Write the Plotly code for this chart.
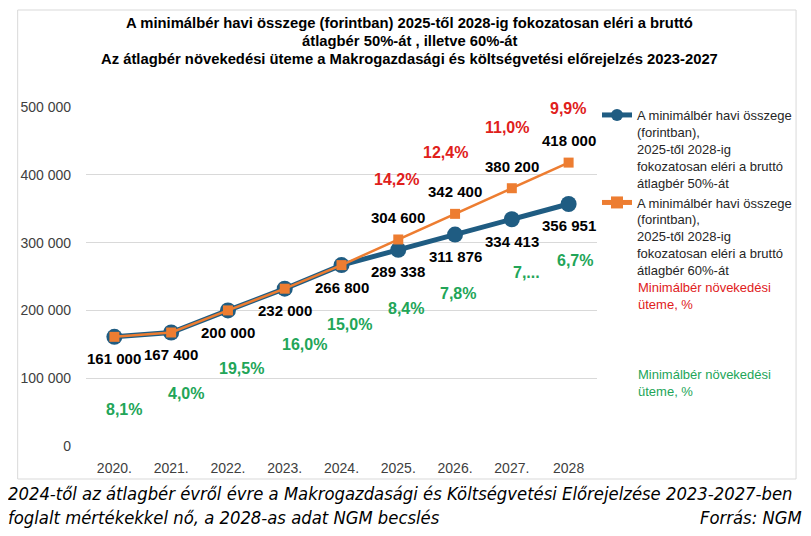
import plotly.graph_objects as go

years = ["2020.", "2021.", "2022.", "2023.", "2024.", "2025.", "2026.", "2027.", "2028"]
min_wage_50 = [161000, 167400, 200000, 232000, 266800, 289338, 311876, 334413, 356951]
min_wage_60 = [161000, 167400, 200000, 232000, 266800, 304600, 342400, 380200, 418000]
growth_60 = ["14,2%", "12,4%", "11,0%", "9,9%"]          # 2025-2028, 60% scenario
growth_50 = ["8,1%", "4,0%", "19,5%", "16,0%", "15,0%", "8,4%", "7,8%", "7,...", "6,7%"]
y_ticks = [0, 100000, 200000, 300000, 400000, 500000]

name_50 = "A minimálbér havi összege<br>(forintban),<br>2025-től 2028-ig<br>fokozatosan eléri a bruttó<br>átlagbér 50%-át"
name_60 = "A minimálbér havi összege<br>(forintban),<br>2025-től 2028-ig<br>fokozatosan eléri a bruttó<br>átlagbér 60%-át"
title_lines = ["A minimálbér havi összege (forintban) 2025-től 2028-ig fokozatosan eléri a bruttó",
               "átlagbér 50%-át , illetve 60%-át",
               "Az átlagbér növekedési üteme a Makrogazdasági és költségvetési előrejelzés 2023-2027"]
footer1 = "2024-től az átlagbér évről évre a Makrogazdasági és Költségvetési Előrejelzése 2023-2027-ben"
footer2 = "foglalt mértékekkel nő, a 2028-as adat NGM becslés"
source = "Forrás: NGM"
legend_growth = "Minimálbér növekedési<br>üteme, %"

BLUE = "#1F5C82"
ORANGE = "#ED7D31"
RED = "#E0201B"
GREEN = "#22A558"
SANS = "Liberation Sans, Arial, sans-serif"
COND = "DejaVu Sans Condensed, Liberation Sans, Arial, sans-serif"

# page has an 8px body margin: work in reference pixels and shift by 8
OFF = 8
W, H = 811 - OFF, 536 - OFF
PL, PR, PT, PB = 81 - OFF, 597 - OFF, 107 - OFF, 446 - OFF   # plot-area edges in figure px
L, R, T, B = PL, W - PR, PT, H - PB
pw, ph = PR - PL, PB - PT


def px(x):   # reference x pixel -> paper
    return (x - OFF - PL) / pw


def py(y):   # reference y pixel -> paper
    return (PB - (y - OFF)) / ph


fig = go.Figure()
fig.add_trace(go.Scatter(x=years, y=min_wage_50, name=name_50, mode="lines+markers",
                         line=dict(color=BLUE, width=5),
                         marker=dict(symbol="circle", size=16, color=BLUE)))
fig.add_trace(go.Scatter(x=years, y=min_wage_60, name=name_60, mode="lines+markers",
                         line=dict(color=ORANGE, width=2.5),
                         marker=dict(symbol="square", size=10, color=ORANGE)))


def fmt(v):
    return f"{v:,}".replace(",", " ")


ann = []
# value labels of the 50% series (below the points)
for i, v in enumerate(min_wage_50):
    ann.append(dict(x=i, y=v, xref="x", yref="y", text="<b>" + fmt(v) + "</b>", showarrow=False,
                    yshift=-22, font=dict(family=SANS, size=15, color="#000000")))
# value labels of the 60% series for forecast years (above the points)
n0 = len(years) - len(growth_60)
for i in range(n0, len(years)):
    ann.append(dict(x=i, y=min_wage_60[i], xref="x", yref="y", text="<b>" + fmt(min_wage_60[i]) + "</b>",
                    showarrow=False, yshift=22, font=dict(family=SANS, size=15, color="#000000")))
# red growth labels above the 60% series
red_dx = [-2, -10, -5, -1]
red_dy = [60, 61, 61, 54]
for k, t in enumerate(growth_60):
    i = n0 + k
    ann.append(dict(x=i, y=min_wage_60[i], xref="x", yref="y", text="<b>" + t + "</b>", showarrow=False,
                    xshift=red_dx[k], yshift=red_dy[k], font=dict(family=SANS, size=16, color=RED)))
# green growth labels below the 50% series
grn_dx = [10, 15, 14, 20, 8, 8, 3, 15, 6]
grn_dy = [-73, -61, -58, -56, -59, -59, -59, -53, -57]
for i, t in enumerate(growth_50):
    ann.append(dict(x=i, y=min_wage_50[i], xref="x", yref="y", text="<b>" + t + "</b>", showarrow=False,
                    xshift=grn_dx[i], yshift=grn_dy[i], font=dict(family=SANS, size=16, color=GREEN)))

# title lines
for t, yc in zip(title_lines, [23, 41, 59]):
    ann.append(dict(x=px(408), y=py(yc), xref="paper", yref="paper", xanchor="center", yanchor="middle",
                    text="<b>" + t + "</b>", showarrow=False,
                    font=dict(family=SANS, size=14.8, color="#000000")))

# legend texts for the growth-rate series
ann.append(dict(x=px(636), y=py(278), xref="paper", yref="paper", xanchor="left", yanchor="top",
                align="left", text=legend_growth, showarrow=False,
                font=dict(family=SANS, size=13, color=RED)))
ann.append(dict(x=px(636), y=py(365), xref="paper", yref="paper", xanchor="left", yanchor="top",
                align="left", text=legend_growth, showarrow=False,
                font=dict(family=SANS, size=13, color=GREEN)))
# footer
ann.append(dict(x=px(0), y=py(493), xref="paper", yref="paper", xanchor="left", yanchor="middle",
                text="<i>" + footer1 + "</i>", showarrow=False,
                font=dict(family=COND, size=18.3, color="#000000")))
ann.append(dict(x=px(0), y=py(517), xref="paper", yref="paper", xanchor="left", yanchor="middle",
                text="<i>" + footer2 + "</i>", showarrow=False,
                font=dict(family=COND, size=18.3, color="#000000")))
ann.append(dict(x=px(806), y=py(517), xref="paper", yref="paper", xanchor="right", yanchor="middle",
                text="<i>" + source + "</i>", showarrow=False,
                font=dict(family=COND, size=18.3, color="#000000")))

fig.update_layout(
    width=W, height=H, autosize=False,
    margin=dict(l=L, r=R, t=T, b=B),
    paper_bgcolor="white", plot_bgcolor="white",
    separators=", ",
    xaxis=dict(type="category", range=[-0.5, 8.5], showgrid=False, showline=False, ticks="",
               tickfont=dict(family=SANS, size=14, color="#404040"), ticklabelstandoff=12),
    yaxis=dict(range=[0, 500000], tickvals=y_ticks, tickformat=",d", showgrid=True,
               gridcolor="#D9D9D9", gridwidth=1, zeroline=False, showline=False, ticks="",
               tickfont=dict(family=SANS, size=14, color="#404040"), ticklabelstandoff=14),
    legend=dict(x=px(597), xanchor="left", y=py(100), yanchor="top",
                valign="top", font=dict(family=SANS, size=13, color="#262626"),
                bgcolor="rgba(0,0,0,0)", tracegroupgap=0, itemwidth=30, itemsizing="constant"),
    annotations=ann,
    shapes=[dict(type="rect", xref="paper", yref="paper",
                 x0=px(12), x1=px(798), y0=py(479), y1=py(10),
                 line=dict(color="#D9D9D9", width=1), fillcolor="rgba(0,0,0,0)", layer="below")],
)

fig.write_html("out.html")
